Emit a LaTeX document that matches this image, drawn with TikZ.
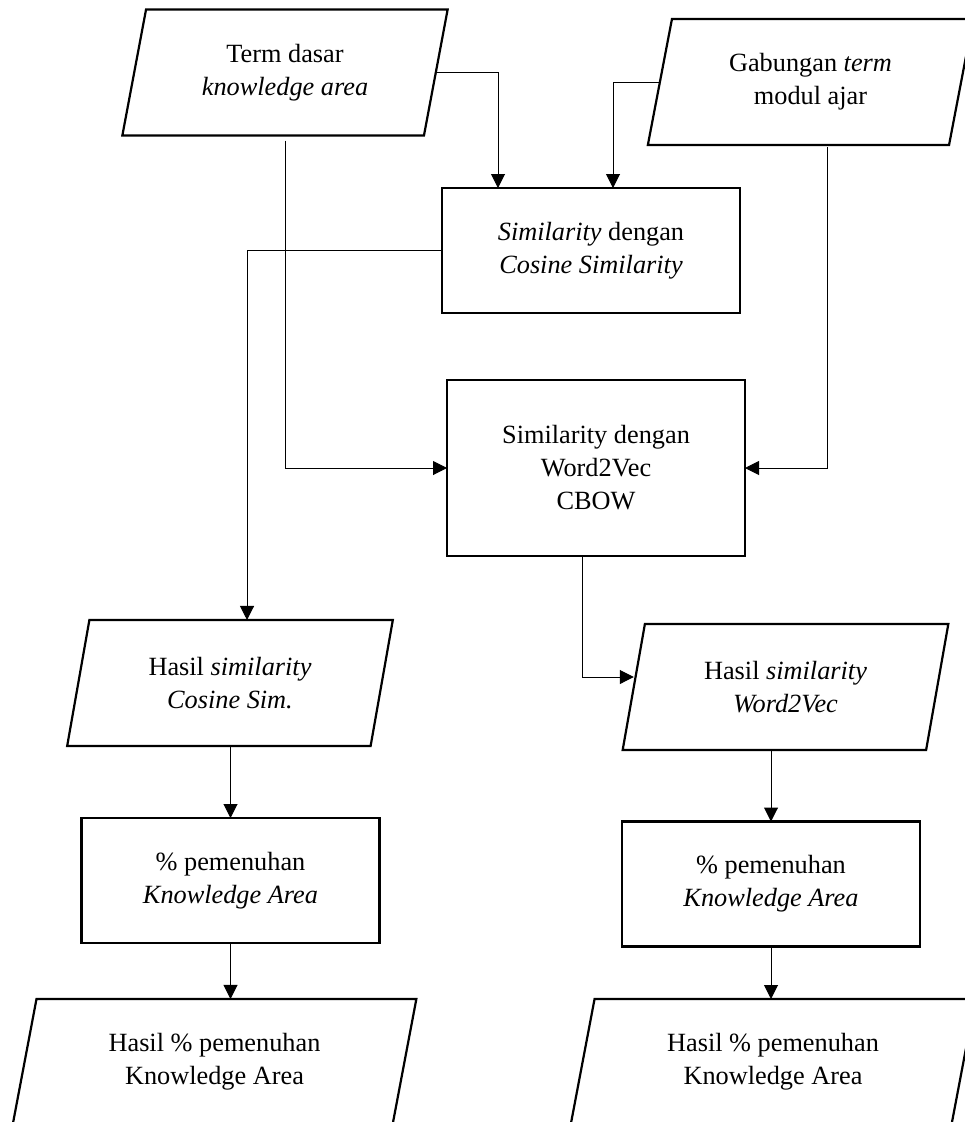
\documentclass[tikz,border=0pt]{standalone}
\usepackage{fontspec}
\setmainfont{Liberation Serif}
\usetikzlibrary{shapes,arrows.meta}

\tikzset{
	txt/.style={align=center, font=\fontsize{26.3}{33}\selectfont, inner sep=0pt, outer sep=0pt},
	io/.style={txt, draw, line width=2.2pt, trapezium, trapezium left angle=76, trapezium right angle=104,
		trapezium stretches=true, minimum width=326pt, minimum height=126pt},
	proc/.style={txt, draw, line width=2.2pt, rectangle, minimum width=298pt, minimum height=125pt},
	arr/.style={line width=1pt, -{Triangle[length=14pt,width=14pt]}}
}

\begin{document}
\begin{tikzpicture}[x=1pt,y=-1pt]
		\useasboundingbox (0,0) rectangle (965,1122);
		\node[io] (termKA) at (285,72.5) {Term dasar\\\textit{knowledge area}};
		\node[io] (gabung) at (810.5,82) {Gabungan \textit{term}\\modul ajar};
		\node[proc] (cosSim) at (591,250.5) {\textit{Similarity} dengan\\\textit{Cosine Similarity}};
		\node[proc, minimum height=176pt] (w2vSim) at (596,468) {Similarity dengan\\Word2Vec\\CBOW};
		\node[io] (hasilCos) at (230,683) {Hasil \textit{similarity}\\\textit{Cosine Sim.}};
		\node[io] (hasilW2v) at (785.5,687) {Hasil \textit{similarity}\\\textit{Word2Vec}};
		\node[proc] (penuhCos) at (230.5,880.5) {\% pemenuhan\\\textit{Knowledge Area}};
		\node[proc] (penuhW2v) at (771,884) {\% pemenuhan\\\textit{Knowledge Area}};
		\node[io, minimum width=405pt] (akhirCos) at (214.5,1062) {Hasil \% pemenuhan\\Knowledge Area};
		\node[io, minimum width=406pt] (akhirW2v) at (773,1062) {Hasil \% pemenuhan\\Knowledge Area};

		\draw[arr] (termKA.east) -| ([xshift=-93pt]cosSim.north);
		\draw[arr] (gabung.west) -| ([xshift=22pt]cosSim.north);
		\draw[arr, shorten <=5pt] (termKA.south) |- (w2vSim.west);
		\draw[arr, shorten <=2pt] ([xshift=16.5pt]gabung.south) |- (w2vSim.east);
		\draw[arr] (cosSim.west) -| ([xshift=17pt]hasilCos.north);
		\draw[arr] ([xshift=-14pt]w2vSim.south) |- ([yshift=10pt]hasilW2v.west);
		\draw[arr] (penuhCos.north |- hasilCos.south) -- (penuhCos.north);
		\draw[arr] (penuhW2v.north |- hasilW2v.south) -- (penuhW2v.north);
		\draw[arr] (penuhCos.south) -- (penuhCos.south |- akhirCos.north);
		\draw[arr] (penuhW2v.south) -- (penuhW2v.south |- akhirW2v.north);
\end{tikzpicture}
\end{document}
